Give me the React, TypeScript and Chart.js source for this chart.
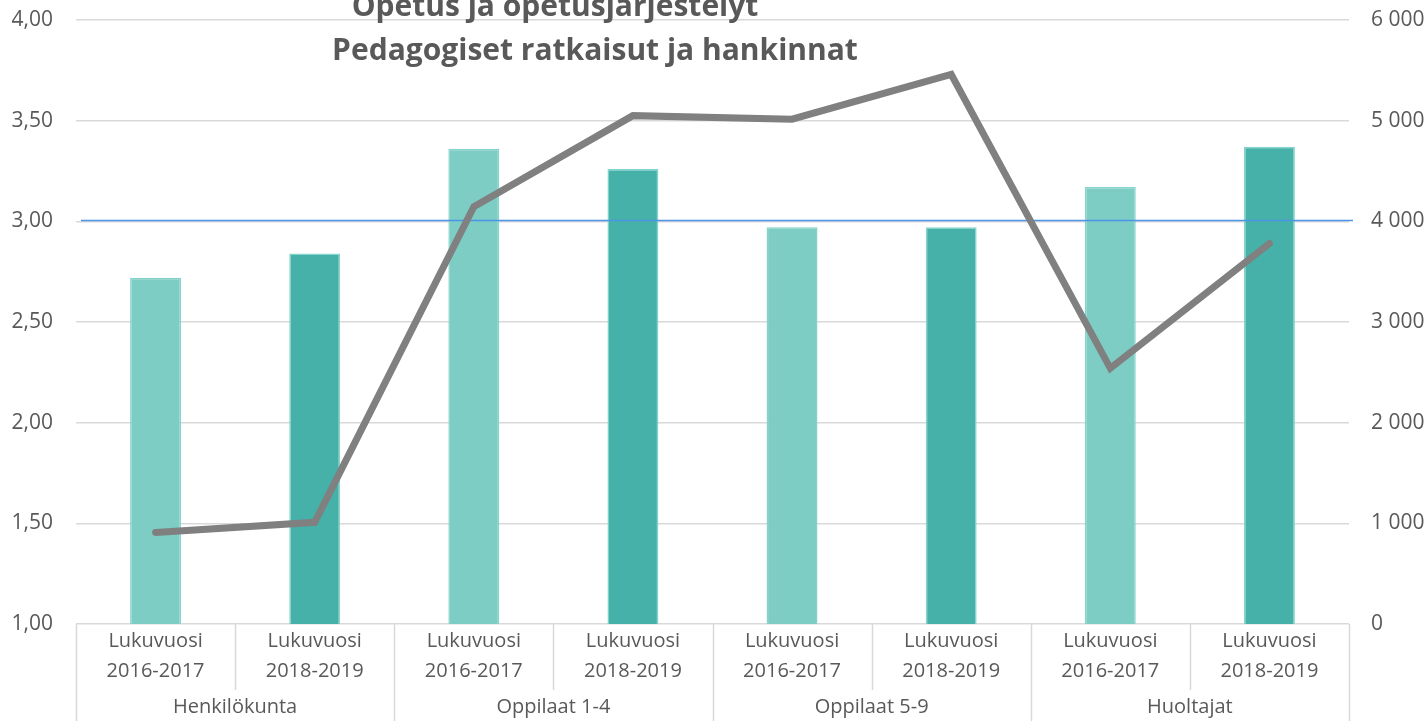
import React, { useEffect, useRef } from "react";
import { Chart, registerables } from "chart.js";

Chart.register(...registerables);

const titleLines = ["Opetus ja opetusjärjestelyt", "Pedagogiset ratkaisut ja hankinnat"];
const groups = ["Henkilökunta", "Oppilaat 1-4", "Oppilaat 5-9", "Huoltajat"];
const periods = ["Lukuvuosi 2016-2017", "Lukuvuosi 2018-2019"];
const categories: string[][] = groups.flatMap(() => periods.map((p) => p.split(" ")));
const barValues = [2.72, 2.84, 3.36, 3.26, 2.97, 2.97, 3.17, 3.37];
const lineValues = [910, 1010, 4145, 5050, 5015, 5460, 2540, 3780];
const referenceValue = [3.007];
const barColors = ["#7DCDC4", "#45B1A9"];
const leftTicks = [1, 4, 0.5];
const rightTicks = [0, 6000, 1000];

const TEXT = "#595959";
const GRID = "#d9d9d9";
const FONT = "'Open Sans', sans-serif";

const decorPlugin = {
  id: "decor",
  afterDatasetDraw(chart: any, args: any) {
    if (args.index !== 0) return;
    const { ctx, chartArea, scales } = chart;
    const y = Math.round(scales.y.getPixelForValue(referenceValue[0])) + 0.5;
    ctx.save();
    ctx.strokeStyle = "#4d94e6";
    ctx.lineWidth = 1.5;
    ctx.beginPath();
    ctx.moveTo(chartArea.left + 5, y);
    ctx.lineTo(chartArea.right + 4, y);
    ctx.stroke();
    ctx.restore();
  },
  afterDraw(chart: any) {
    const { ctx, chartArea, scales, height } = chart;
    const x = scales.x;
    const n = categories.length;
    const w = (x.getPixelForValue(1) - x.getPixelForValue(0));
    ctx.save();
    ctx.strokeStyle = GRID;
    ctx.lineWidth = 1.5;
    for (let i = 0; i <= n; i++) {
      const px = Math.round(x.getPixelForValue(0) - w / 2 + i * w) + 0.5;
      ctx.beginPath();
      ctx.moveTo(px, chartArea.bottom);
      ctx.lineTo(px, i % 2 === 0 ? height : chartArea.bottom + 66);
      ctx.stroke();
    }
    ctx.fillStyle = TEXT;
    ctx.font = `20px ${FONT}`;
    ctx.textAlign = "center";
    ctx.textBaseline = "middle";
    groups.forEach((g, gi) => {
      const cx = (x.getPixelForValue(gi * 2) + x.getPixelForValue(gi * 2 + 1)) / 2;
      ctx.fillText(g, cx, chartArea.bottom + 83);
    });
    ctx.font = `bold 30px ${FONT}`;
    ctx.fillText(titleLines[0], 555, 7);
    ctx.fillText(titleLines[1], 595, 51);
    ctx.restore();
  },
};

export default function App() {
  const ref = useRef<HTMLCanvasElement | null>(null);
  useEffect(() => {
    if (!ref.current) return;
    const chart = new Chart(ref.current, {
      type: "bar",
      data: {
        labels: categories,
        datasets: [
          {
            type: "bar",
            data: barValues,
            backgroundColor: barValues.map((_, i) => barColors[i % 2]),
            borderColor: "#86D3CB",
            borderWidth: 1.5,
            categoryPercentage: 1,
            barPercentage: 0.32,
            yAxisID: "y",
            order: 2,
          },
          {
            type: "line",
            data: lineValues,
            borderColor: "#808080",
            borderWidth: 7,
            borderCapStyle: "round",
            borderJoinStyle: "miter",
            pointRadius: 0,
            tension: 0,
            yAxisID: "y1",
            order: 1,
          },
        ],
      } as any,
      options: {
        responsive: false,
        animation: false,
        layout: { padding: { top: 20, left: 0, right: 0, bottom: 0 } },
        plugins: { legend: { display: false }, title: { display: false }, tooltip: { enabled: false } },
        scales: {
          x: {
            grid: { display: false, drawTicks: false },
            border: { display: false },
            ticks: {
              color: TEXT,
              font: { family: FONT, size: 20, lineHeight: 1.5 },
              padding: 2,
              maxRotation: 0,
              autoSkip: false,
            },
            afterFit: (s: any) => {
              s.height = 97;
              s.paddingLeft = 0;
              s.paddingRight = 0;
            },
          },
          y: {
            position: "left",
            min: leftTicks[0],
            max: leftTicks[1],
            ticks: {
              stepSize: leftTicks[2],
              color: TEXT,
              font: { family: FONT, size: 21 },
              padding: 23,
              callback: (v: any) => Number(v).toFixed(2).replace(".", ","),
            },
            grid: { color: GRID, lineWidth: 1.5, drawTicks: false },
            border: { display: false },
            afterFit: (s: any) => {
              s.width = 76;
              s.paddingTop = 0;
              s.paddingBottom = 0;
            },
          },
          y1: {
            position: "right",
            min: rightTicks[0],
            max: rightTicks[1],
            ticks: {
              stepSize: rightTicks[2],
              color: TEXT,
              font: { family: FONT, size: 21 },
              padding: 22,
              callback: (v: any) => String(v).replace(/\B(?=(\d{3})+(?!\d))/g, " "),
            },
            grid: { display: false, drawTicks: false },
            border: { display: false },
            afterFit: (s: any) => {
              s.width = 79;
              s.paddingTop = 0;
              s.paddingBottom = 0;
            },
          },
        },
      } as any,
      plugins: [decorPlugin],
    });
    return () => chart.destroy();
  }, []);
  return (
    <div style={{ position: "absolute", left: 0, top: 0, width: 1428, height: 721, background: "#fff" }}>
      <canvas ref={ref} width={1428} height={721} style={{ display: "block" }} />
    </div>
  );
}
